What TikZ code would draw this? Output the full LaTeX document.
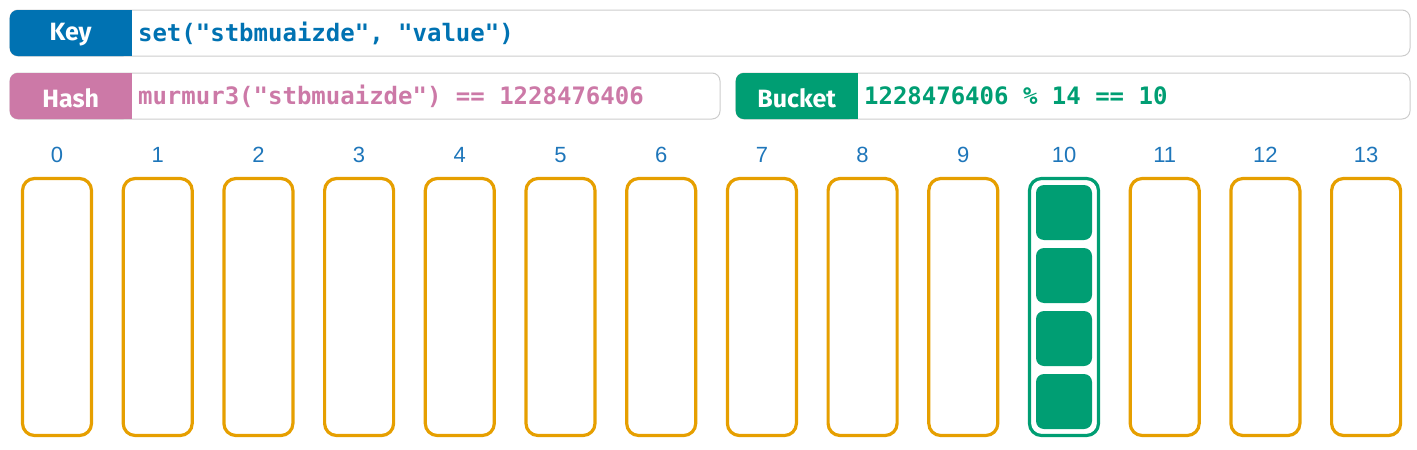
\documentclass[tikz,border=0pt]{standalone}
\usepackage{fontspec}
\setmainfont{Liberation Sans}
\newfontfamily\labelfont{Fira Sans}
\newfontfamily\codefont{DejaVu Sans Mono}
\usetikzlibrary{positioning,calc}

\definecolor{keyblue}{RGB}{0,114,178}
\definecolor{hashpink}{RGB}{204,121,167}
\definecolor{bucketgreen}{RGB}{0,158,115}
\definecolor{bucketorange}{RGB}{230,159,0}
\definecolor{numblue}{RGB}{30,118,186}

\begin{document}
\begin{tikzpicture}[
    x=1pt, y=-1pt,
    % styles
    bar/.style={draw=black!20, line width=1pt, rounded corners=8pt, minimum height=46pt, inner sep=0pt},
    tag/.style={rounded corners=8pt, minimum width=122pt, minimum height=46pt, inner sep=0pt,
        text=white, font=\labelfont\bfseries\fontsize{25}{25}\selectfont},
    code/.style={inner sep=2pt, font=\codefont\bfseries\fontsize{24}{24}\selectfont},
    slot/.style={rounded corners=12pt, line width=3.2pt, minimum width=69pt, minimum height=257pt, inner sep=0pt},
    entry/.style={fill=bucketgreen, rounded corners=8pt, minimum width=56pt, minimum height=55pt, inner sep=0pt},
    num/.style={text=numblue, font=\fontsize{22}{22}\selectfont}
]
    \useasboundingbox (0,0) rectangle (1417,450);

    % --- 1. Key / Hash / Bucket bars ---
    \node[bar, minimum width=1400pt] (keybar) at (710,33) {};
    \node[tag, fill=keyblue, anchor=west] (keytag) at (keybar.west) {};
    \fill[keyblue] (keytag.north) rectangle (keytag.south east);
    \node[tag] at ($(keytag)+(0,2)$) {Key};
    \node[code, text=keyblue, right=4pt of keytag] (keycode) {set("stbmuaizde", "value")};

    \node[bar, minimum width=710pt] (hashbar) at (365,96) {};
    \node[tag, fill=hashpink, anchor=west] (hashtag) at (hashbar.west) {};
    \fill[hashpink] (hashtag.north) rectangle (hashtag.south east);
    \node[tag] at ($(hashtag)+(0,2)$) {Hash};
    \node[code, text=hashpink, right=4pt of hashtag] (hashcode) {murmur3("stbmuaizde") == 1228476406};

    \node[bar, minimum width=674pt] (bucketbar) at (1073,96) {};
    \node[tag, fill=bucketgreen, anchor=west] (buckettag) at (bucketbar.west) {};
    \fill[bucketgreen] (buckettag.north) rectangle (buckettag.south east);
    \node[tag] at ($(buckettag)+(0,2)$) {Bucket};
    \node[code, text=bucketgreen, right=4pt of buckettag] (bucketcode) {1228476406 \% 14 == 10};

    % --- 2. Buckets ---
    \foreach \i in {0,...,13}{
        \ifnum\i=10 \def\bcol{bucketgreen}\else\def\bcol{bucketorange}\fi
        \node[slot, draw=\bcol] (b\i) at (57+100.7*\i,307) {};
        \node[num] (n\i) at (57+100.7*\i,155) {\i};
    }

    % entries in bucket 10
    \foreach \j in {1,...,4}
        \node[entry] (e\j) at ($(b10.center)+(0,-94.5+63*\j-63)$) {};

\end{tikzpicture}
\end{document}
